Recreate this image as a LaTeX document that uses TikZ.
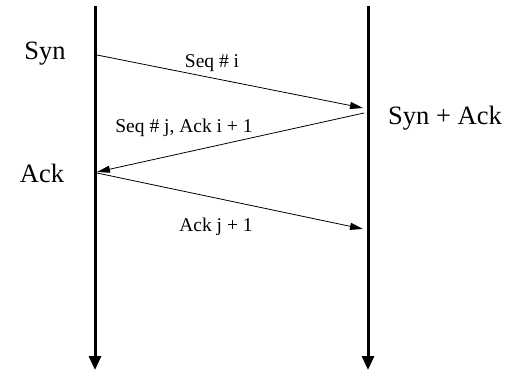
\documentclass[tikz,border=0pt]{standalone}
\usepackage{fontspec}
\setmainfont{Liberation Serif}
\usetikzlibrary{arrows.meta}
\begin{document}
\begin{tikzpicture}[x=1pt,y=-1pt,
    lifeline/.style={line width=3pt,-{Triangle[length=14pt,width=12pt]}},
    msg/.style={line width=0.8pt,-{Triangle[length=13pt,width=7pt]}},
    big/.style={font=\fontsize{26.5}{30}\selectfont},
    small/.style={font=\fontsize{19.5}{22}\selectfont}]
    \useasboundingbox (0,0) rectangle (508,370);
    % lifelines
    \coordinate (lt) at (95,6);
    \coordinate (lb) at (95,370);
    \coordinate (rt) at (368,6);
    \coordinate (rb) at (368,370);
    \draw[lifeline] (lt) -- (lb);
    \draw[lifeline] (rt) -- (rb);
    % message ends
    \coordinate (synA) at (97,55);
    \coordinate (synB) at (363,108);
    \coordinate (saA) at (364,113);
    \coordinate (saB) at (97,172);
    \coordinate (ackA) at (97,173);
    \coordinate (ackB) at (363,229);
    \draw[msg] (synA) -- (synB);
    \draw[msg] (saA) -- (saB);
    \draw[msg] (ackA) -- (ackB);
    % labels
    \node[big] (syn) at (45,54) {Syn};
    \node[big] (ack) at (42,173) {Ack};
    \node[big] (synack) at (445,118) {Syn + Ack};
    \node[small] (seqi) at (212,63) {Seq \# i};
    \node[small] (seqj) at (184,128) {Seq \# j, Ack i + 1};
    \node[small] (ackj) at (216,227) {Ack j + 1};
\end{tikzpicture}
\end{document}
